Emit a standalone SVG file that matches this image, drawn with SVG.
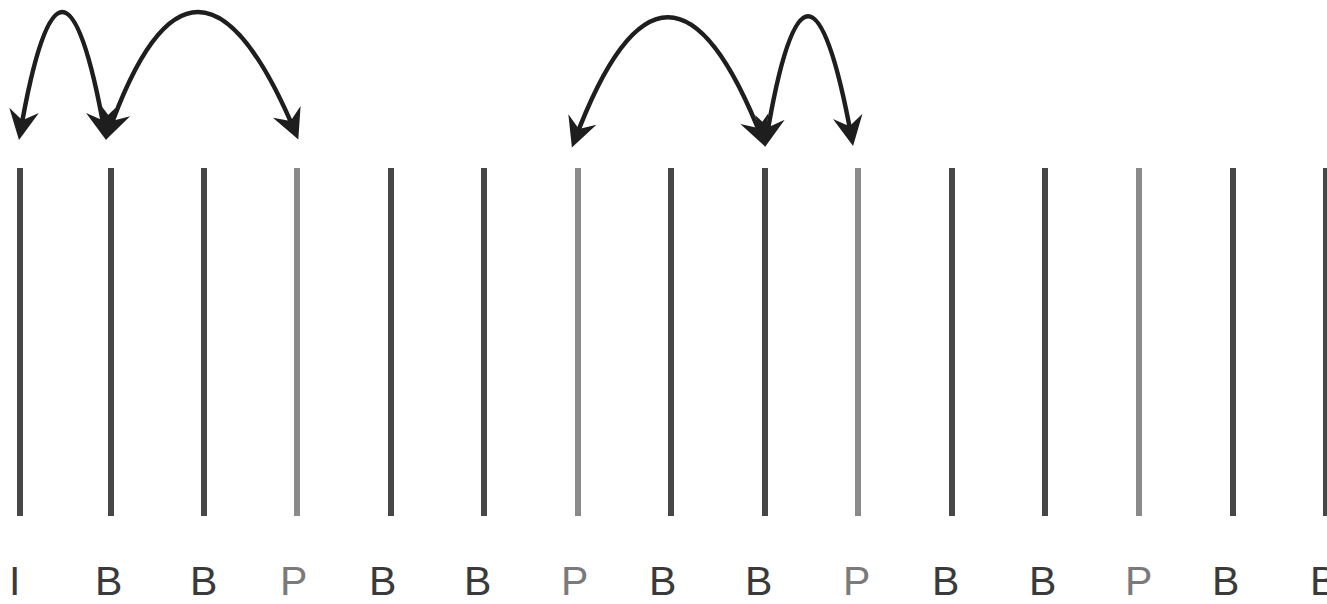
<svg xmlns="http://www.w3.org/2000/svg" width="1327" height="604" viewBox="0 0 1327 604">
  <style>
    .frame { stroke-width: 6; fill: none; }
    .ref { stroke: #474747; }
    .pred { stroke: #8a8a8a; }
    .lbl { font-family: "Liberation Sans", Arial, sans-serif; font-size: 41px; }
    .lref { fill: #3a3a3a; }
    .lpred { fill: #7a7a7a; }
    .arc { fill: none; stroke: #1e1e1e; stroke-width: 4.5; marker-start: url(#head); marker-end: url(#head); }
  </style>
  <defs>
    <marker id="head" markerUnits="userSpaceOnUse" orient="auto-start-reverse" viewBox="-26 -16 34 32" markerWidth="34" markerHeight="32" refX="0" refY="0" overflow="visible">
      <path d="M6,0 L-24,-15 L-14,0 L-24,15 Z" fill="#1e1e1e"/>
    </marker>
  </defs>
  <rect width="1327" height="604" fill="#ffffff"/>

  <g id="frame-0"><line class="frame ref" x1="20" y1="168" x2="20" y2="516"/><text class="lbl lref" x="9" y="595">I</text></g>
  <g id="frame-1"><line class="frame ref" x1="111" y1="168" x2="111" y2="516"/><text class="lbl lref" x="95" y="595">B</text></g>
  <g id="frame-2"><line class="frame ref" x1="204" y1="168" x2="204" y2="516"/><text class="lbl lref" x="190" y="595">B</text></g>
  <g id="frame-3"><line class="frame pred" x1="297" y1="168" x2="297" y2="516"/><text class="lbl lpred" x="280" y="595">P</text></g>
  <g id="frame-4"><line class="frame ref" x1="391" y1="168" x2="391" y2="516"/><text class="lbl lref" x="369" y="595">B</text></g>
  <g id="frame-5"><line class="frame ref" x1="484" y1="168" x2="484" y2="516"/><text class="lbl lref" x="464" y="595">B</text></g>
  <g id="frame-6"><line class="frame pred" x1="578" y1="168" x2="578" y2="516"/><text class="lbl lpred" x="561" y="595">P</text></g>
  <g id="frame-7"><line class="frame ref" x1="671" y1="168" x2="671" y2="516"/><text class="lbl lref" x="649" y="595">B</text></g>
  <g id="frame-8"><line class="frame ref" x1="765" y1="168" x2="765" y2="516"/><text class="lbl lref" x="745" y="595">B</text></g>
  <g id="frame-9"><line class="frame pred" x1="858" y1="168" x2="858" y2="516"/><text class="lbl lpred" x="843" y="595">P</text></g>
  <g id="frame-10"><line class="frame ref" x1="952" y1="168" x2="952" y2="516"/><text class="lbl lref" x="932" y="595">B</text></g>
  <g id="frame-11"><line class="frame ref" x1="1045" y1="168" x2="1045" y2="516"/><text class="lbl lref" x="1029" y="595">B</text></g>
  <g id="frame-12"><line class="frame pred" x1="1139" y1="168" x2="1139" y2="516"/><text class="lbl lpred" x="1125" y="595">P</text></g>
  <g id="frame-13"><line class="frame ref" x1="1233" y1="168" x2="1233" y2="516"/><text class="lbl lref" x="1212" y="595">B</text></g>
  <g id="frame-14"><line class="frame ref" x1="1326" y1="168" x2="1326" y2="516"/><text class="lbl lref" x="1310" y="595">B</text></g>

  <g id="connectors">
    <path class="arc" d="M20,134 Q62,-110 105,134"/>
    <path class="arc" d="M108,134 Q194,-110 296,134"/>
    <path class="arc" d="M574,142 Q667,-107 763,141"/>
    <path class="arc" d="M766,141 Q807,-108 852,140"/>
  </g>
</svg>
